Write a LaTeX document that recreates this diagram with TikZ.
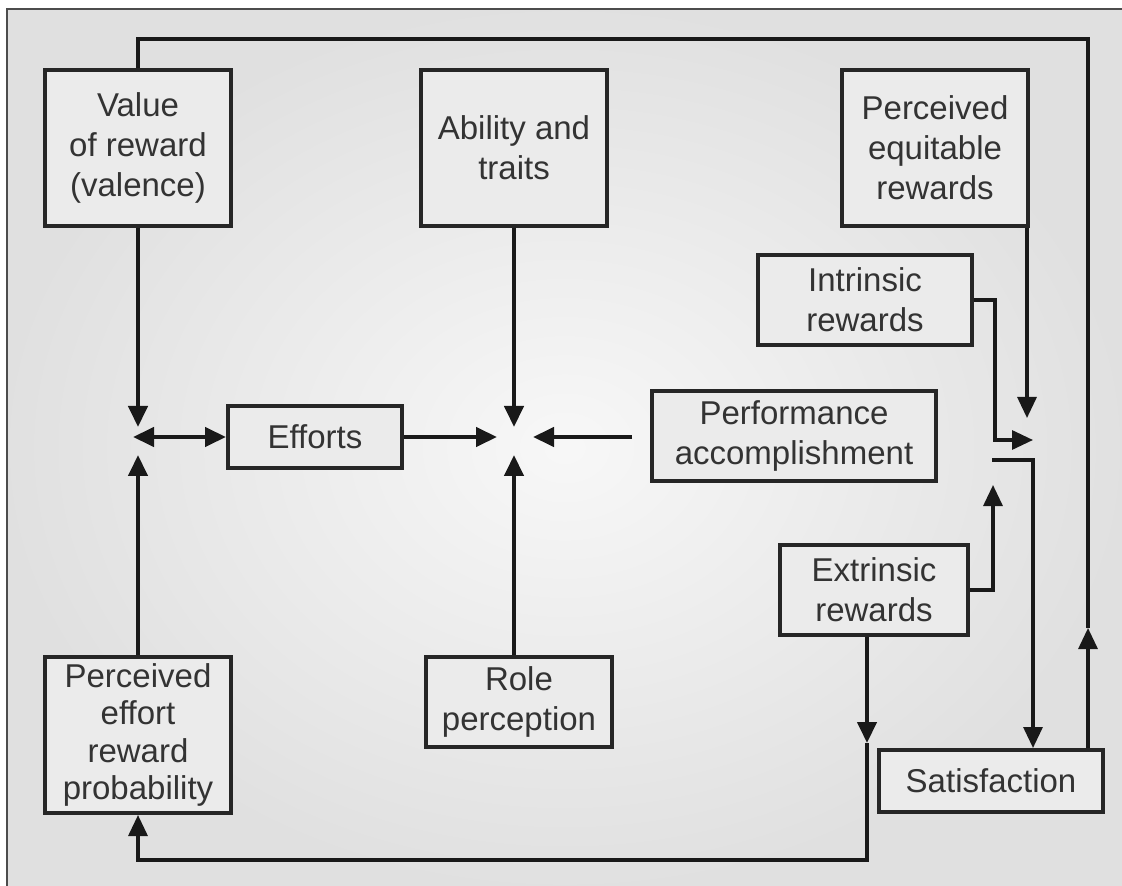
\documentclass[tikz,border=0pt]{standalone}
\usepackage{fontspec}
\setmainfont{Liberation Sans}
\usetikzlibrary{arrows.meta}

\begin{document}
\begin{tikzpicture}[x=0.5pt,y=-0.5pt,>={Triangle[length=10.5pt,width=9.5pt]},
  box/.style={draw=black!85,line width=2pt,fill=white!92!black,align=center,
    inner sep=0pt,text=black!80,font=\fontsize{16.5}{20}\selectfont},
  tall/.style={box,minimum width=93pt,minimum height=78pt},
  flat/.style={box,minimum height=45pt},
  conn/.style={draw=black!90,line width=2.1pt},
  loop/.style={draw=black!90,line width=1.6pt}]
\useasboundingbox (0,0) rectangle (1122,886);
% background and frame
\shade[inner color=white!97!black,outer color=white!88!black] (7,9) rectangle (1122,886);
\draw[black!70,line width=1.2pt] (1122,9) -- (7,9) -- (7,886);

% boxes
\node[tall] (val) at (138,148) {Value\\of reward\\(valence)};
\node[tall] (abil) at (514,148) {Ability and\\traits};
\node[tall] (equi) at (935,148) {Perceived\\equitable\\rewards};
\node[flat,minimum width=107pt] (intr) at (865,300) {Intrinsic\\rewards};
\node[box,minimum width=87pt,minimum height=31pt] (eff) at (315,437) {Efforts};
\node[flat,minimum width=142pt] (perf) at (794,436) {Performance\\accomplishment};
\node[flat,minimum width=94pt] (extr) at (874,590) {Extrinsic\\rewards};
\node[flat,minimum width=93pt] (role) at (519,702) {Role\\perception};
\node[box,minimum width=112pt,minimum height=31pt] (sat) at (991,781) {Satisfaction};
\node[tall,font=\fontsize{16.5}{18.8}\selectfont] (peff) at (138,735)
  {Perceived\\effort\\reward\\probability};

% arrow ends round the junctions
\coordinate (lTop) at (138,427);
\coordinate (lBot) at (138,455);
\coordinate (lLft) at (133,437);
\coordinate (cTop) at (514,427);
\coordinate (cBot) at (514,455);
\coordinate (cLft) at (497,437);
\coordinate (cRgt) at (533,437);
\coordinate (pStart) at (632,437);
\coordinate (rTop) at (1027,418);
\coordinate (rLft) at (1033,440);
\coordinate (rBot) at (993,485);
\coordinate (rOut) at (992,460);
\coordinate (fbTop) at (1088,39);
\coordinate (fbTip) at (1088,628);
\coordinate (exTip) at (867,743);
\coordinate (exCorner) at (867,860);

% left junction
\draw[conn,->] (val) -- (lTop);
\draw[conn,->] (peff) -- (lBot);
\draw[conn,<->] (lLft) -- (eff);

% centre junction
\draw[conn,->] (abil) -- (cTop);
\draw[conn,->] (role.north -| cBot) -- (cBot);
\draw[conn,->] (eff) -- (cLft);
\draw[conn,->] (pStart) -- (cRgt);

% right junction
\draw[loop,->] (equi.south -| rTop) -- (rTop);
\draw[loop,->] (intr.east) -- ++(21,0) |- (rLft);
\draw[loop,->] (extr.east) -| (rBot);
\draw[loop,->] (rOut) -| (sat.north -| rLft);

% feedback loops
\draw[loop,->] (sat.north -| fbTop) -- (fbTip);
\draw[loop] (fbTip) -- (fbTop) -| (val.north);
\draw[conn,->] (extr.south -| exTip) -- (exTip);
\draw[loop,->] (exTip) -- (exCorner) -| (peff.south);
\end{tikzpicture}
\end{document}
